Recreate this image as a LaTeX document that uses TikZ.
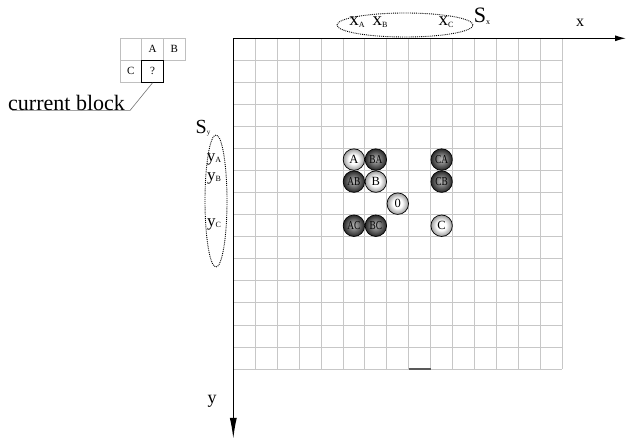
\documentclass[tikz,border=0pt]{standalone}
\usepackage{fontspec}
\setmainfont{Liberation Serif}
\usetikzlibrary{arrows.meta,shapes.geometric}
\newcommand{\fs}[1]{\fontsize{#1}{#1}\selectfont}
\newcommand{\sbs}[1]{{\fs{8}\raisebox{-1.5pt}{#1}}}
\newcommand{\two}[1]{\scalebox{0.78}[1]{#1}}
\pgfdeclareradialshading{lightballsh}{\pgfpoint{-1bp}{1bp}}{color(0bp)=(white); color(11bp)=(white); color(25bp)=(black!40); color(50bp)=(black!40)}
\pgfdeclareradialshading{darkballsh}{\pgfpoint{-1bp}{1bp}}{color(0bp)=(black!30); color(6bp)=(black!40); color(25bp)=(black!85); color(50bp)=(black!85)}
\begin{document}
\begin{tikzpicture}[x=1pt,y=-1pt,
  gridline/.style={draw=black!22, line width=0.9pt},
  axisline/.style={draw=black, line width=1.3pt},
  ballbase/.style={circle, draw=black, line width=0.7pt, minimum size=21.5pt, inner sep=0pt},
  lightball/.style={ballbase, shading=lightballsh, font=\fs{12.5}},
  darkball/.style={ballbase, shading=darkballsh, font=\fs{12}},
  cell/.style={draw=black!25, line width=0.7pt, minimum width=21.7pt, minimum height=22pt, inner sep=0pt, font=\fs{11}},
  curcell/.style={draw=black, line width=1.3pt, minimum width=21.7pt, minimum height=22pt, inner sep=0pt, font=\fs{11}},
  setell/.style={ellipse, draw=black, densely dotted, line width=0.9pt, inner sep=0pt},
  lab/.style={inner sep=0pt},
  callout/.style={draw=black!55, line width=0.6pt}]
\useasboundingbox (0,0) rectangle (626,439);

% grid
\begin{scope}[shift={(233.3,38.3)}, x=21.93pt, y=-22.05pt]
  \foreach \i in {1,...,15} \draw[gridline] (\i,0) -- (\i,15);
  \foreach \j in {1,...,15} \draw[gridline] (0,\j) -- (15,\j);
  \draw[draw=black!65, line width=1.3pt] (8,15) -- (9,15);
  \coordinate (O) at (0,0);
  \coordinate (xe) at (17.91,0);
  \coordinate (ye) at (0,18.17);
  \draw[axisline, -{Latex[length=11pt,width=6pt]}] (O) -- (xe);
  \draw[axisline, -{Latex[length=21pt,width=7pt]}] (O) -- (ye);
  \node[lightball] (A) at (5.5,5.5) {A};
  \node[darkball] (BA) at (6.5,5.5) {\two{BA}};
  \node[darkball] (CA) at (9.5,5.5) {\two{CA}};
  \node[darkball] (AB) at (5.5,6.5) {\two{AB}};
  \node[lightball] (B) at (6.5,6.5) {B};
  \node[darkball] (CB) at (9.5,6.5) {\two{CB}};
  \node[lightball] (Z) at (7.5,7.5) {0};
  \node[darkball] (AC) at (5.5,8.5) {\two{AC}};
  \node[darkball] (BC) at (6.5,8.5) {\two{BC}};
  \node[lightball] (C) at (9.5,8.5) {C};
\end{scope}

% axis labels
\node[lab, font=\fs{16}] (xl) at (580,23) {x};
\node[lab, font=\fs{18}] (yl) at (212,401) {y};

% S_x set
\node[setell, minimum width=136pt, minimum height=24pt] (Sx) at (405,25) {};
\node[lab, font=\fs{19}] (xA) at (357,22) {x\sbs{A}};
\node[lab, font=\fs{19}] (xB) at (380,22) {x\sbs{B}};
\node[lab, font=\fs{19}] (xC) at (446,22) {x\sbs{C}};
\node[lab, font=\fs{22}] (SxL) at (482,16) {S\sbs{x}};

% S_y set
\node[setell, minimum width=22pt, minimum height=132pt] (Sy) at (216,201) {};
\node[lab, font=\fs{17}] (yA) at (214,159) {y\sbs{A}};
\node[lab, font=\fs{17}] (yB) at (214,178) {y\sbs{B}};
\node[lab, font=\fs{17}] (yC) at (214,224) {y\sbs{C}};
\node[lab, font=\fs{20}] (SyL) at (203,128) {S{\fs{7}\raisebox{-1.5pt}{y}}};

% current block neighbourhood
\node[cell] (n0) at (130.8,49.2) {};
\node[cell] (nA) at (152.5,49.2) {A};
\node[cell] (nB) at (174.2,49.2) {B};
\node[cell] (nC) at (130.8,71.2) {C};
\node[curcell] (q) at (152.5,71.2) {?};

\node[lab, anchor=base west, font=\fs{22}] (cb) at (8,110) {current block};
\draw[callout] ([xshift=4pt]cb.south west) -- ([xshift=5pt]cb.south east) -- (q.south);
\end{tikzpicture}
\end{document}
